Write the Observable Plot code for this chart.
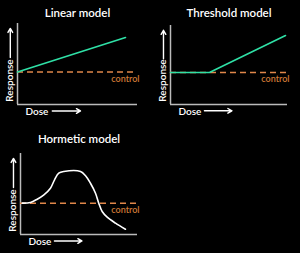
<!DOCTYPE html>
<html><head><meta charset="utf-8">
<script src="https://cdn.jsdelivr.net/npm/d3@7"></script>
<script src="https://cdn.jsdelivr.net/npm/@observablehq/plot@0.6"></script>
<style>
html,body{margin:0;padding:0;background:#000;}
#wrap{position:relative;width:300px;height:253px;background:#000;overflow:hidden;}
.p{position:absolute;}
</style></head>
<body><div id="wrap"></div>
<script>
const titles = ["Linear model", "Threshold model", "Hormetic model"];
const controlLevel = [4.0, 4.05, 3.87];
const linearDose = [0, 9];
const linearResp = [4.0, 8.27];
const thresholdDose = [0, 3.33, 9.83];
const thresholdResp = [4.05, 4.05, 8.73];
const hormDose = [0.15, 0.85, 1.43, 2.0, 2.56, 2.91, 3.27, 3.7, 5.13, 5.56, 5.98, 6.41, 6.69, 6.98, 7.41, 8.12, 8.97];
const hormResp = [3.87, 3.95, 4.36, 4.9, 5.72, 6.75, 7.57, 7.78, 7.78, 7.25, 6.33, 5.1, 3.87, 2.84, 2.14, 1.4, 0.65];

const FONT = "Lato, 'Open Sans', sans-serif";
const wrap = document.getElementById("wrap");

function panel({title, dose, resp, color, control, left, top, width, height, ml, mt, mr, mb, curve}) {
  const data = dose.map((d, i) => ({dose: d, resp: resp[i]}));
  const chart = Plot.plot({
    width, height,
    marginLeft: ml, marginTop: mt, marginRight: mr, marginBottom: mb,
    style: {background: "transparent", fontFamily: FONT, color: "#fff"},
    x: {domain: [0, 10], axis: null},
    y: {domain: [0, 10], axis: null},
    marks: [
      Plot.ruleX([0], {stroke: "#bbb", strokeWidth: 1.5}),
      Plot.ruleY([0], {stroke: "#bbb", strokeWidth: 1.5}),
      Plot.ruleY([control], {stroke: "#e0874a", strokeWidth: 1.5, strokeDasharray: "6,4"}),
      Plot.line(data, {x: "dose", y: "resp", stroke: color, strokeWidth: 1.6, curve}),
      Plot.text(["control"], {x: 10, y: control, dy: 7, dx: 2, textAnchor: "end", fill: "#d07a36", fontSize: 9, fontWeight: 600}),
      Plot.text([title], {frameAnchor: "top", lineAnchor: "middle", dy: -mt + 13, fill: "#fff", fontSize: 11.5, fontWeight: 600}),
      Plot.text(["Dose"], {frameAnchor: "bottom-left", lineAnchor: "middle", dx: 8, dy: 7, textAnchor: "start", fill: "#fff", fontSize: 10, fontWeight: 600}),
      Plot.arrow([0], {x1: 2.9, x2: 5.25, y1: -0.8, y2: -0.8, stroke: "#fff", strokeWidth: 1.4, headLength: 5, bend: 0}),
      Plot.text(["Response"], {frameAnchor: "bottom-left", lineAnchor: "middle", dx: -8, dy: -24, rotate: -90, textAnchor: "middle", fill: "#fff", fontSize: 10, fontWeight: 600}),
      Plot.arrow([0], {x1: -0.6, x2: -0.6, y1: 5.8, y2: 9.4, stroke: "#fff", strokeWidth: 1.4, headLength: 5, bend: 0})
    ]
  });
  chart.classList.add("p");
  chart.style.left = left + "px";
  chart.style.top = top + "px";
  wrap.appendChild(chart);
}

panel({title: titles[0], dose: linearDose, resp: linearResp, color: "#2fe0a6", control: controlLevel[0],
  left: 0, top: 0, width: 150, height: 126, ml: 17, mt: 23, mr: 13, mb: 22, curve: "linear"});
panel({title: titles[1], dose: thresholdDose, resp: thresholdResp, color: "#2fe0a6", control: controlLevel[1],
  left: 150, top: 0, width: 150, height: 126, ml: 20, mt: 25, mr: 13, mb: 22, curve: "linear"});
panel({title: titles[2], dose: hormDose, resp: hormResp, color: "#fff", control: controlLevel[2],
  left: 0, top: 126, width: 150, height: 127, ml: 20, mt: 27, mr: 13, mb: 19, curve: "catmull-rom"});
</script>
</body></html>
